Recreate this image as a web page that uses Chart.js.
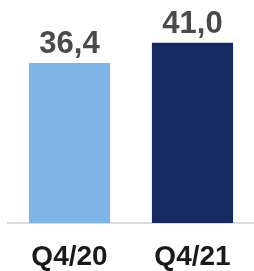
<!DOCTYPE html>
<html>
<head>
<meta charset="utf-8">
<script src="https://cdn.jsdelivr.net/npm/chart.js@4/dist/chart.umd.min.js"></script>
<style>
  html, body { margin: 0; padding: 0; background: #fff; }
  #wrap { width: 254px; height: 271px; }
</style>
</head>
<body>
<div id="wrap"><canvas id="chart" width="254" height="271"></canvas></div>
<script>
const categories = ['Q4/20', 'Q4/21'];
const values = [36.4, 41.0];
const valueLabels = ['36,4', '41,0'];
const barColors = ['#7eb3e3', '#172b62'];

const FONT = '"Liberation Sans", Arial, sans-serif';

// draws the value above each bar, using the bar element positions
const valueLabelPlugin = {
    id: 'valueLabels',
    afterDatasetsDraw(chart) {
        const ctx = chart.ctx;
        const meta = chart.getDatasetMeta(0);
        ctx.save();
        ctx.font = 'bold 31px ' + FONT;
        ctx.fillStyle = '#4a4a4a';
        ctx.textAlign = 'center';
        ctx.textBaseline = 'alphabetic';
        meta.data.forEach((bar, i) => {
            ctx.fillText(valueLabels[i], bar.x, bar.y - 10);
        });
        ctx.restore();
    }
};

new Chart(document.getElementById('chart'), {
    type: 'bar',
    data: {
        labels: categories,
        datasets: [{
            data: values,
            backgroundColor: barColors,
            borderWidth: 0,
            barPercentage: 0.66,
            categoryPercentage: 1.0
        }]
    },
    options: {
        responsive: false,
        animation: false,
        layout: { padding: { left: 8, right: 0, top: 0, bottom: 0 } },
        plugins: {
            legend: { display: false },
            tooltip: { enabled: false }
        },
        scales: {
            y: {
                display: false,
                min: 0,
                max: 50.7
            },
            x: {
                afterFit(scale) { scale.height = 48; },
                grid: { display: false, drawTicks: false },
                border: { display: true, color: '#dcdcdc', width: 2 },
                ticks: {
                    color: '#1a1a1a',
                    padding: 20,
                    font: { family: FONT, size: 28, weight: 'bold', lineHeight: 1 }
                }
            }
        }
    },
    plugins: [valueLabelPlugin]
});
</script>
</body>
</html>
